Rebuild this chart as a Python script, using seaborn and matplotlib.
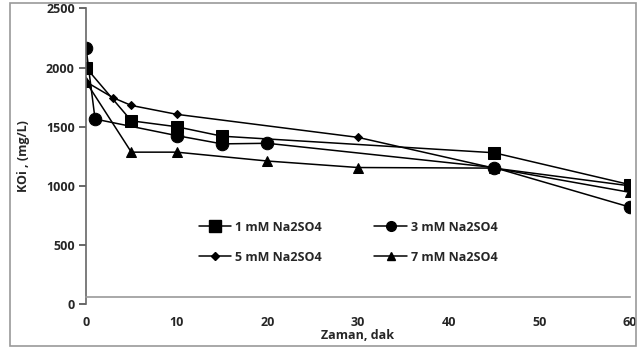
import matplotlib
matplotlib.use("Agg")
import matplotlib.pyplot as plt
import seaborn as sns
import pandas as pd
from matplotlib.patches import Rectangle
from matplotlib.lines import Line2D

sns.set_theme(style="white")
plt.rcParams['font.family'] = ['Open Sans', 'DejaVu Sans']
plt.rcParams['font.weight'] = 'bold'

labels = ["1 mM Na2SO4", "3 mM Na2SO4", "5 mM Na2SO4", "7 mM Na2SO4"]
t1 = [0, 5, 10, 15, 45, 60]
y1 = [2000, 1550, 1500, 1420, 1280, 1010]
t3 = [0, 1, 10, 15, 20, 45, 60]
y3 = [2170, 1565, 1425, 1355, 1360, 1155, 820]
t5 = [0, 3, 5, 10, 30, 45, 60]
y5 = [1880, 1745, 1680, 1605, 1410, 1150, 1000]
t7 = [0, 5, 10, 20, 30, 45, 60]
y7 = [1880, 1285, 1285, 1210, 1155, 1150, 945]
xticks = [0, 10, 20, 30, 40, 50, 60]
yticks = [0, 500, 1000, 1500, 2000, 2500]

series = [(t1, y1, 's', 9, 8), (t3, y3, 'o', 9, 7), (t5, y5, 'D', 4.5, 4),
          (t7, y7, '^', 6.5, 5.5)]

fig = plt.figure(figsize=(6.37, 3.54), dpi=100)
ax = fig.add_axes([0.135, 0.141, 0.854, 0.835])

for (t, y, m, ms, lms), lab in zip(series, labels):
    df = pd.DataFrame({"t": t, "y": y})
    sns.lineplot(data=df, x="t", y="y", ax=ax, color="black", linewidth=1.1,
                 marker=m, markersize=ms, markeredgecolor="black",
                 markerfacecolor="black", label=lab, legend=False)

fs = 9
ax.set_xlim(0, 60)
ax.set_ylim(0, 2500)
ax.set_xticks(xticks)
ax.set_yticks(yticks)
ax.tick_params(axis='x', direction='in', length=4, pad=14, labelsize=fs, color='#888888')
ax.tick_params(axis='y', direction='out', length=5, pad=3, labelsize=fs, color='#555555', left=True)
for lab in ax.get_xticklabels() + ax.get_yticklabels():
    lab.set_fontweight('bold')
ax.spines['top'].set_visible(False)
ax.spines['right'].set_visible(False)
ax.spines['bottom'].set_position(('data', 60))
ax.spines['bottom'].set_color('#999999')
ax.spines['left'].set_color('#666666')
ax.spines['bottom'].set_linewidth(1.2)
ax.spines['left'].set_linewidth(1.2)
ax.set_xlabel("Zaman, dak", fontsize=fs, fontweight='bold')
ax.set_ylabel("KOi , (mg/L)", fontsize=fs, fontweight='bold')
ax.xaxis.set_label_coords(0.5, -0.085)
ax.yaxis.set_label_coords(-0.103, 0.5)

handles = []
for (t, y, m, ms, lms), lab in zip(series, labels):
    handles.append(Line2D([0], [0], color='black', linewidth=1.1, marker=m,
                          markersize=lms, markerfacecolor='black',
                          markeredgecolor='black', label=lab))
order = [0, 2, 1, 3]
leg = ax.legend([handles[i] for i in order], [labels[i] for i in order],
                ncol=2, frameon=False, loc='upper left',
                bbox_to_anchor=(0.187, 0.32), columnspacing=4.2,
                handlelength=2.6, labelspacing=1.35, handletextpad=0.3,
                prop={'family': ['Open Sans', 'DejaVu Sans'], 'weight': 'bold', 'size': fs})

fig.add_artist(Rectangle((10/637, 1 - 346/354), 626/637, 343/354,
                         transform=fig.transFigure, fill=False,
                         edgecolor='#999999', linewidth=1.2))
fig.savefig("out.png", dpi=100)
